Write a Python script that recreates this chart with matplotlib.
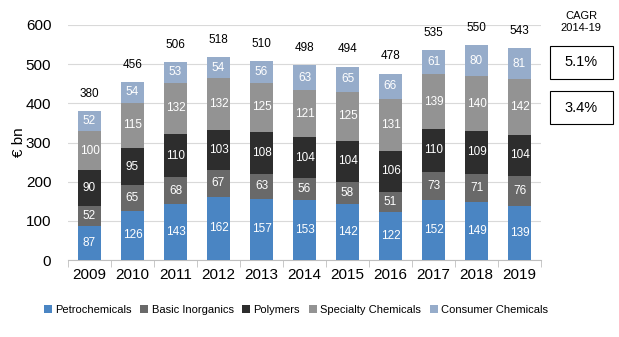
import matplotlib.pyplot as plt
import numpy as np
from matplotlib.patches import Rectangle

plt.rcParams['font.family'] = ['Liberation Sans', 'DejaVu Sans']

years = ["2009", "2010", "2011", "2012", "2013", "2014", "2015", "2016", "2017", "2018", "2019"]
petrochemicals = [87, 126, 143, 162, 157, 153, 142, 122, 152, 149, 139]
basic_inorganics = [52, 65, 68, 67, 63, 56, 58, 51, 73, 71, 76]
polymers = [90, 95, 110, 103, 108, 104, 104, 106, 110, 109, 104]
specialty = [100, 115, 132, 132, 125, 121, 125, 131, 139, 140, 142]
consumer = [52, 54, 53, 54, 56, 63, 65, 66, 61, 80, 81]
totals = [380, 456, 506, 518, 510, 498, 494, 478, 535, 550, 543]
cagr_labels = ["5.1%", "3.4%"]

series = [
    ("Petrochemicals", petrochemicals, "#4a85c3"),
    ("Basic Inorganics", basic_inorganics, "#696969"),
    ("Polymers", polymers, "#2d2d2d"),
    ("Specialty Chemicals", specialty, "#939393"),
    ("Consumer Chemicals", consumer, "#96acca"),
]

fig = plt.figure(figsize=(6.19, 3.37), dpi=100)
ax = fig.add_axes([68 / 619, 1 - 260 / 337, (541 - 68) / 619, (260 - 25) / 337])

x = np.arange(len(years))
bottom = np.zeros(len(years))
for name, vals, color in series:
    vals = np.array(vals)
    ax.bar(x, vals, 0.52, bottom=bottom, color=color, label=name, zorder=3)
    for xi, b, v in zip(x, bottom, vals):
        ax.text(xi, b + v / 2, str(v), ha="center", va="center", color="white", fontsize=8.5, zorder=4)
    bottom += vals

# totals as printed in the source, placed above each stack
for xi, top, t in zip(x, bottom, totals):
    ax.annotate(str(t), (xi, top), xytext=(0, 8), textcoords="offset points",
                ha="center", va="bottom", fontsize=8.5, color="black")

ax.set_xlim(-0.5, len(years) - 0.5)
ax.set_ylim(0, 600)
ax.set_yticks(range(0, 601, 100))
ax.yaxis.grid(True, color="#d9d9d9", linewidth=0.8, zorder=0)
ax.set_xticks(x)
ax.set_xticklabels(years, fontsize=11)
ax.set_xticks(np.arange(-0.5, len(years)), minor=True)
ax.tick_params(axis="x", which="major", length=0, pad=6)
ax.tick_params(axis="x", which="minor", length=5, color="#bfbfbf")
ax.tick_params(axis="y", length=0, labelsize=11, pad=12)
for s in ["top", "right", "left"]:
    ax.spines[s].set_visible(False)
ax.spines["bottom"].set_color("#bfbfbf")
ax.set_ylabel("€ bn", fontsize=11, labelpad=0)

fig.text(581 / 619, 1 - 22 / 337, "CAGR\n2014-19", ha="center", va="center", fontsize=8, linespacing=1.3)
for i, lab in enumerate(cagr_labels):
    y0 = 46 + i * 45
    fig.patches.append(Rectangle((550 / 619, 1 - (y0 + 33) / 337), 63 / 619, 33 / 337,
                                 transform=fig.transFigure, fill=False, edgecolor="black", linewidth=0.8))
    fig.text(581.5 / 619, 1 - (y0 + 16.5) / 337, lab, ha="center", va="center", fontsize=10.5)

fig.legend(loc="center", bbox_to_anchor=(0.478, 1 - 310 / 337), ncol=5, frameon=False,
           fontsize=8, handlelength=0.7, handleheight=0.7, handletextpad=0.3, columnspacing=0.8)

fig.savefig("out.png", dpi=100)
